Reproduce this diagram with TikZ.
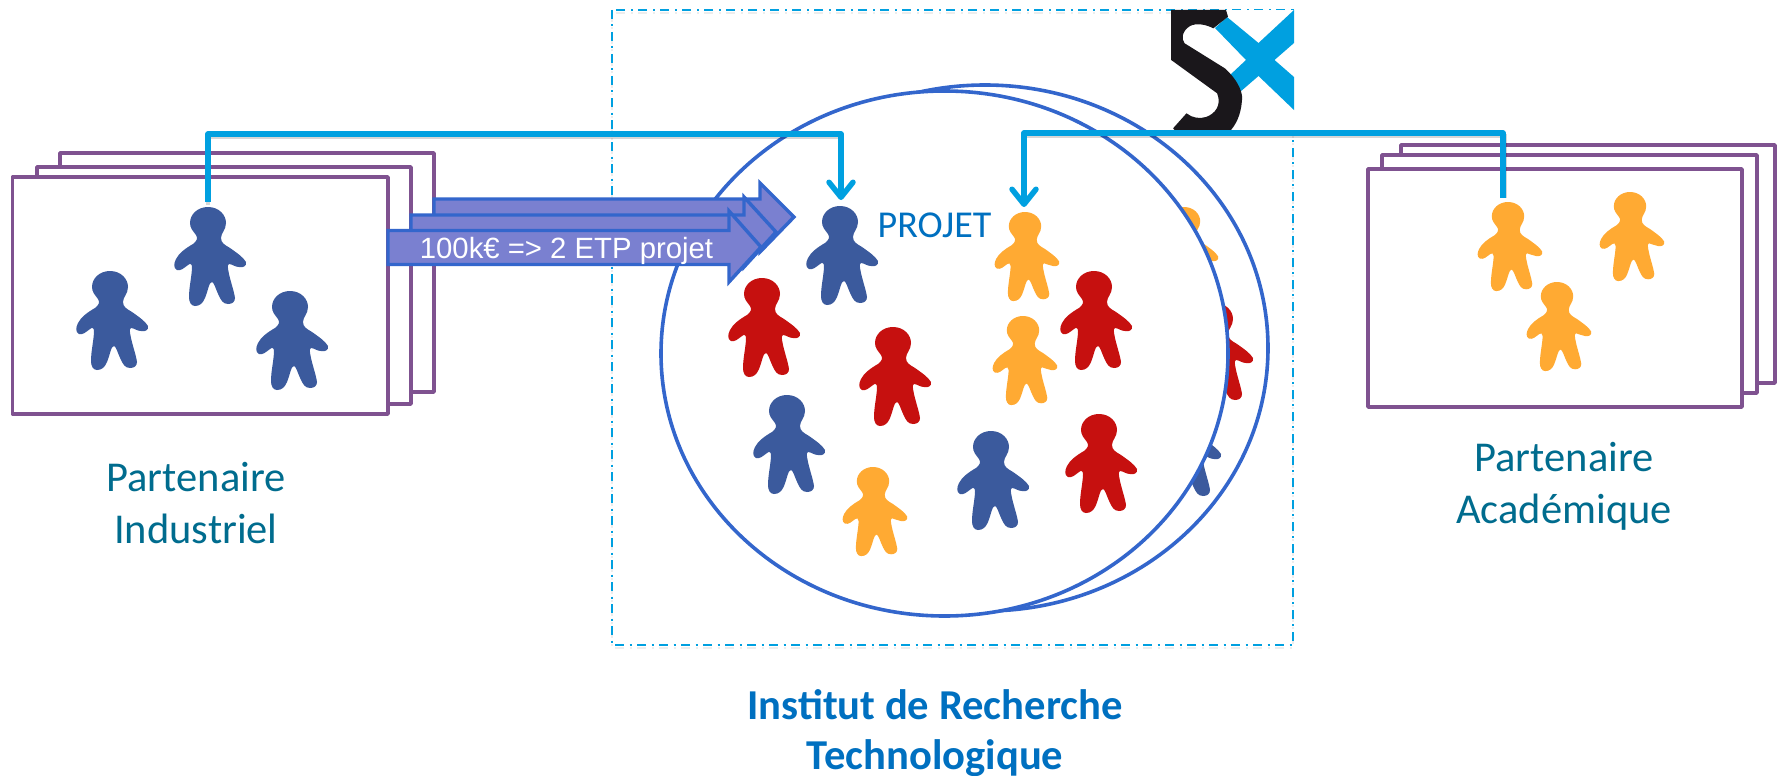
\documentclass[tikz,border=0pt]{standalone}
\usepackage{fontspec}
\setmainfont{Carlito}
\newfontfamily\arialf{Liberation Sans}
\usetikzlibrary{arrows.meta}
\definecolor{cblue}{HTML}{3B5A9D}
\definecolor{cred}{HTML}{C6100F}
\definecolor{corange}{HTML}{FFAA33}
\definecolor{clink}{HTML}{00A0E0}
\definecolor{cring}{HTML}{3366CC}
\definecolor{cfill}{HTML}{7A80D0}
\definecolor{cpurple}{HTML}{7F5290}
\definecolor{cteal}{HTML}{006C8E}
\definecolor{ctitle}{HTML}{0070C0}
\definecolor{cblack}{HTML}{1A171B}
\tikzset{
  pagebox/.style={draw=cpurple,line width=3.5pt,fill=white,line join=round},
  ringshape/.style={draw=cring,line width=3.6pt,fill=white},
  flowarrow/.style={draw=cring,line width=3.4pt,fill=cfill,line join=miter},
  linkline/.style={draw=clink,line width=5.5pt,line join=round,
     -{Straight Barb[length=15pt,width=24pt,line width=5.5pt,round]}},
  linkshadow/.style={draw=black,opacity=.16,line width=4pt},
  framebox/.style={draw=clink,line width=2pt,dash pattern=on 9pt off 5.5pt on 2pt off 5.5pt},
  partcap/.style={text=cteal,font=\fontsize{42.5}{52}\selectfont,align=center},
  titlecap/.style={text=ctitle,font=\fontsize{42.6}{50}\selectfont\bfseries,align=center},
}
\newcommand{\person}[5][1]{%
  \coordinate (#2) at (#3,#4);
  \fill[#5,shift={(#3,#4)},scale=#1]
    (0,0) .. controls (11,0) and (18,8) .. (18,16)
    .. controls (18,23) and (13,26) .. (13,31)
    .. controls (13,36) and (17,38) .. (22,41)
    .. controls (29,46) and (35,50) .. (38,55)
    .. controls (39,59) and (35,61) .. (31,60)
    .. controls (27,60) and (24,57) .. (21,57)
    .. controls (19,58) and (20,62) .. (21,67)
    .. controls (23,76) and (26,84) .. (27,91)
    .. controls (27,95) and (24,97) .. (20,97)
    .. controls (15,97) and (13,93) .. (11,89)
    .. controls (8,83) and (6,75) .. (4,75)
    .. controls (1,75) and (0,84) .. (-3,91)
    .. controls (-5,96) and (-8,99) .. (-13,99)
    .. controls (-17,99) and (-19,95) .. (-19,90)
    .. controls (-19,80) and (-16,68) .. (-16,60)
    .. controls (-16,57) and (-18,56) .. (-20,58)
    .. controls (-24,61) and (-27,64) .. (-31,63)
    .. controls (-35,61) and (-34,56) .. (-32,52)
    .. controls (-29,46) and (-22,41) .. (-15,37)
    .. controls (-11,34) and (-10,31) .. (-12,28)
    .. controls (-15,24) and (-18,21) .. (-18,16)
    .. controls (-18,7) and (-10,0) .. (0,0) -- cycle;
}
\begin{document}
\begin{tikzpicture}[x=1pt,y=-1pt]
\useasboundingbox (0,0) rectangle (1781,776);
\fill[white] (0,0) rectangle (1781,776);
% institute frame
\draw[framebox,draw=black,opacity=.07] (612,13) rectangle (1292.5,648);
\draw[framebox] (612,10) rectangle (1292.5,645);
% back ring and its people
\draw[ringshape] (985,348) ellipse [x radius=283,y radius=263];
\person[.9]{backO}{1184}{207}{corange}
\person{backR}{1215}{303}{cred}
\person{backB}{1183}{399}{cblue}
% front ring and people
\draw[ringshape] (944.5,353.5) ellipse [x radius=283.5,y radius=262.5];
\person{mB}{840}{206}{cblue}
\person[.9]{mO}{1025}{212}{corange}
\person{mR1}{762}{278}{cred}
\person{mR2}{893}{327}{cred}
\person{mB3}{787}{395}{cblue}
\person[.9]{mO2}{873}{467}{corange}
\person{mB4}{991}{431}{cblue}
\person{mR3}{1099}{414}{cred}
\person{mR4}{1094}{271}{cred}
\person[.9]{mO3}{1023}{316}{corange}
% left pages
\draw[pagebox] (60,153) rectangle (434,392);
\draw[pagebox] (37,167) rectangle (411,404);
\draw[pagebox] (12.5,177) rectangle (388,414);
\person{iA}{208}{207}{cblue}
\person{iB}{110}{271}{cblue}
\person{iC}{290}{291}{cblue}
% right pages
\draw[pagebox] (1401,145) rectangle (1775,383);
\draw[pagebox] (1382,155) rectangle (1757,393);
\draw[pagebox] (1368,169) rectangle (1742,407);
\person[.9]{aA}{1508}{202}{corange}
\person[.9]{aB}{1630}{192}{corange}
\person[.9]{aC}{1557}{282}{corange}
% flow arrows
\draw[flowarrow] (434,199) -- (760,199) -- (760,183) -- (794,217) -- (760,252) -- (760,235) -- (434,235) -- cycle;
\draw[flowarrow] (411,215) -- (744,215) -- (744,197) -- (776,232) -- (744,267) -- (744,250) -- (411,250) -- cycle;
\draw[flowarrow] (388,230.5) -- (729,230.5) -- (729,211) -- (761,247) -- (729,282) -- (729,264.5) -- (388,264.5) -- cycle;
\node[anchor=base,text=white,font=\arialf\fontsize{29.3}{34}\selectfont,inner sep=0pt] (flowlabel) at (566.5,258) {100k€ => 2 ETP projet};
% logo
\fill[white] (1171,10) rectangle (1294,133);
\fill[clink] (1215,28) -- (1227,17) -- (1258.5,43) -- (1294,10) -- (1294,43) -- (1274.5,60) -- (1294,77) -- (1294,110) -- (1258.5,76) -- (1240,92) -- (1230,75) -- (1246,60) -- cycle;
\fill[cblack] (1171.2,10) -- (1226,10) -- (1228,16.7) -- (1213.3,28.3)
  .. controls (1205,24) and (1196,23) .. (1190,26)
  .. controls (1182,31) and (1181,39) .. (1184.6,43.3)
  -- (1224.8,68.3)
  .. controls (1240,82) and (1243,95) .. (1242,100)
  .. controls (1241,115) and (1236,125) .. (1228.6,132.7)
  -- (1177,132.7) -- (1173.1,128.3) -- (1186.5,113.3)
  .. controls (1192,118) and (1200,119) .. (1206,117)
  .. controls (1215,114) and (1222,105) .. (1217.1,93.3)
  -- (1171.2,60) -- cycle;
% connectors
\coordinate (railA) at (0,134);
\coordinate (railB) at (0,133);
\coordinate (srcI) at (208,202);
\coordinate (dstI) at (841,200);
\coordinate (srcA) at (1503,198);
\coordinate (dstA) at (1024,207);
\draw[linkshadow] ([yshift=-3pt]srcI) -- ([yshift=-3pt]srcI |- railA) -- ([yshift=-3pt]dstI |- railA) -- ([yshift=8pt]dstI);
\draw[linkshadow] ([xshift=2pt]srcA) -- ([xshift=2pt,yshift=-3pt]srcA |- railB) -- ([yshift=-3pt]dstA |- railB) -- ([yshift=8pt]dstA);
\draw[linkline] (srcI) -- (srcI |- railA) -| (dstI);
\draw[linkline] (srcA) -- (srcA |- railB) -| (dstA);
% labels
\node[text=ctitle,font=\fontsize{38}{42}\selectfont,inner sep=0pt] (projet) at (934.5,225) {PROJET};
\node[partcap,inner sep=0pt] (indus) at (196,503) {Partenaire\\Industriel};
\node[partcap,inner sep=0pt] (acad) at (1564,486) {Partenaire\\Académique};
\node[titlecap,inner sep=0pt] (irt) at (935,733) {Institut de Recherche\\Technologique};
\end{tikzpicture}
\end{document}
